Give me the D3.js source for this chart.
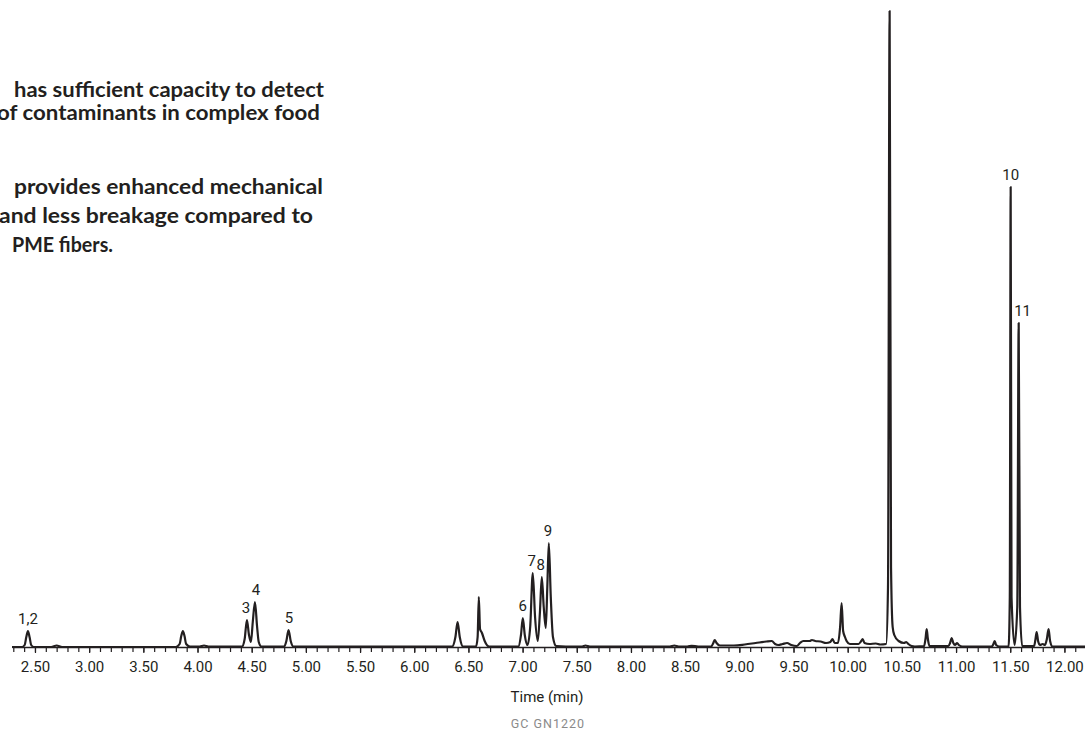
<!DOCTYPE html>
<meta charset="utf-8">
<script src="https://d3js.org/d3.v7.min.js"></script>
<head>
  <style>
  body {
    margin: 0;
    background: #fff;
  }
  .blurb {
    font-family: Lato, "Open Sans", sans-serif;
    font-weight: bold;
    font-size: 20px;
    fill: #231f20;
  }
  .tick text, .peak-label, .axis-title {
    font-family: Roboto, "Liberation Sans", sans-serif;
    font-size: 15px;
    fill: #231f20;
  }
  .code {
    font-family: Roboto, sans-serif;
    font-size: 12.5px;
    letter-spacing: 1px;
    fill: #8a8a8a;
  }
  </style>
</head>
<html><body>
<div id="chart"></div>
<script>

// chromatogram trace: retention time (min) and signal height
const traceTime = [
  2.288, 2.38, 2.405, 2.42, 2.435, 2.45, 2.465, 2.49, 2.65, 2.70, 2.75,
  3.80, 3.835, 3.85, 3.865, 3.88, 3.895, 3.93, 4.02, 4.06, 4.10,
  4.41, 4.435, 4.456, 4.475, 4.493, 4.51, 4.53, 4.55, 4.565, 4.59,
  4.80, 4.82, 4.84, 4.86, 4.885,
  6.35, 6.38, 6.40, 6.42, 6.45, 6.57, 6.585, 6.596, 6.607, 6.625, 6.65, 6.69,
  6.96, 6.985, 7.002, 7.02, 7.045, 7.07, 7.094, 7.115, 7.14, 7.16, 7.177, 7.195,
  7.214, 7.228, 7.242, 7.26, 7.28, 7.31, 7.40, 7.55, 7.58, 7.62,
  8.36, 8.40, 8.44, 8.52, 8.56, 8.62, 8.74, 8.76, 8.773, 8.79, 8.82,
  8.95, 9.05, 9.15, 9.25, 9.30, 9.33, 9.36, 9.40, 9.44, 9.48, 9.53, 9.56, 9.59,
  9.65, 9.67, 9.70, 9.75, 9.80, 9.84, 9.86, 9.88, 9.91, 9.93, 9.944, 9.958,
  9.975, 9.99, 10.02, 10.10, 10.125, 10.138, 10.155, 10.20, 10.26, 10.30,
  10.355, 10.372, 10.387, 10.40, 10.415, 10.43, 10.47, 10.52, 10.54, 10.56,
  10.59, 10.62, 10.705, 10.718, 10.729, 10.74, 10.755, 10.93, 10.945, 10.96,
  10.975, 10.99, 11.01, 11.025, 11.06, 11.33, 11.345, 11.357, 11.37, 11.40,
  11.485, 11.496, 11.504, 11.512, 11.54, 11.565, 11.578, 11.59, 11.61,
  11.72, 11.732, 11.744, 11.757, 11.775, 11.80, 11.82, 11.838, 11.854, 11.868,
  11.89, 12.19
];
const traceSignal = [
  0, 0, 2, 10, 16, 10, 2, 0, 0, 1.5, 0,
  0, 3, 11, 16, 11, 3, 0.5, 0.5, 1.5, 0.5,
  0.5, 8, 27, 12, 5, 25, 45, 20, 5, 0.5,
  0.5, 6, 17, 6, 0.5,
  0.5, 10, 25, 10, 0.5, 0.5, 10, 50, 18, 14, 6, 0.5,
  0.5, 12, 29, 12, 2, 20, 74, 30, 6, 35, 70, 40,
  19, 60, 104, 50, 10, 1, 0.5, 0.5, 1.5, 0.5,
  0.5, 1.5, 0.5, 0.5, 1.2, 0.5, 0.5, 4, 7, 4, 1.5,
  1.5, 2.5, 4, 5.5, 6, 3, 2, 3, 4, 2, 1, 4, 6,
  6, 7, 6, 5.5, 4, 5, 8, 4, 4, 20, 44, 16,
  10, 6, 3, 3, 6, 8, 4, 3, 3.5, 2.5,
  3, 60, 636, 80, 20, 12, 6, 4, 5, 3,
  1, 0.5, 1, 8, 18, 8, 1, 1, 4, 9,
  4, 2, 4, 2, 0.5, 0.5, 3, 6, 2, 0.5,
  0.5, 50, 460, 50, 2, 40, 324, 40, 1,
  1, 7, 15, 6, 2, 3, 2, 8, 18, 6,
  0.5, 0.5
];

// numbered peaks
const peakNames = ["1,2", "3", "4", "5", "6", "7", "8", "9", "10", "11"];
const peakLabelTime = [2.435, 4.446, 4.539, 4.843, 7.002, 7.085, 7.168, 7.233, 11.504, 11.614];
const peakLabelHeight = [16, 27, 45, 17, 29, 74, 70, 104, 460, 324];

// axis
const tickLabels = d3.range(2.5, 12.01, 0.5);
const minorTicks = d3.range(2.3, 12.15, 0.1);

// text block (left side, cut off in the original)
const blurbLines = [
  "has sufficient capacity to detect",
  "of contaminants in complex food",
  "provides enhanced mechanical",
  "and less breakage compared to",
  "PME fibers."
];

const width = 1085, height = 732;
const baseline = 647;

const svg = d3.select("#chart")
  .append("svg")
    .attr("width", width)
    .attr("height", height);

const x = d3.scaleLinear()
  .domain([2.288, 12.19])
  .range([12, 1085]);

const y = d3.scaleLinear()
  .domain([0, baseline])
  .range([baseline, 0]);

// minor ticks
svg.append("g")
  .attr("transform", `translate(0, ${baseline})`)
  .call(d3.axisBottom(x).tickValues(minorTicks).tickSize(5).tickFormat(""))
  .call(g => g.select(".domain").remove())
  .call(g => g.selectAll("line").attr("stroke", "#231f20").attr("stroke-width", 1.2));

// major ticks + labels
svg.append("g")
  .attr("transform", `translate(0, ${baseline})`)
  .call(d3.axisBottom(x).tickValues(tickLabels).tickSize(6).tickSizeOuter(0).tickPadding(8)
    .tickFormat(d3.format(".2f")))
  .call(g => g.attr("font-family", null).attr("font-size", null))
  .call(g => g.select(".domain").attr("stroke", "#231f20").attr("stroke-width", 1.6))
  .call(g => g.selectAll("line").attr("stroke", "#231f20").attr("stroke-width", 1.2));

svg.append("text")
  .attr("class", "axis-title")
  .attr("x", 547)
  .attr("y", 702)
  .attr("text-anchor", "middle")
  .text("Time (min)");

svg.append("text")
  .attr("class", "code")
  .attr("x", 548)
  .attr("y", 728)
  .attr("text-anchor", "middle")
  .text("GC  GN1220");

// trace
const line = d3.line()
  .x(function(d, i) { return x(traceTime[i]) })
  .y(function(d) { return y(d) })
  .curve(d3.curveMonotoneX);

svg.append("path")
  .datum(traceSignal)
  .attr("fill", "none")
  .attr("stroke", "#231f20")
  .attr("stroke-width", 2.2)
  .attr("stroke-linejoin", "round")
  .attr("d", line);

// peak numbers
svg.selectAll(".peak-label")
  .data(peakNames)
  .join("text")
    .attr("class", "peak-label")
    .attr("x", function(d, i) { return x(peakLabelTime[i]) })
    .attr("y", function(d, i) { return y(peakLabelHeight[i]) - 7 })
    .attr("text-anchor", "middle")
    .text(d => d);

// blurb text
const blurbX = [14, -3, 14, -1, 12];
const blurbW = [310, 323, 309, 314, 101];
const blurbY = [97, 120, 194, 223, 252];
svg.selectAll(".blurb")
  .data(blurbLines)
  .join("text")
    .attr("class", "blurb")
    .attr("x", (d, i) => blurbX[i])
    .attr("y", (d, i) => blurbY[i])
    .attr("textLength", (d, i) => blurbW[i])
    .attr("lengthAdjust", "spacingAndGlyphs")
    .text(d => d);

</script>
</body></html>
